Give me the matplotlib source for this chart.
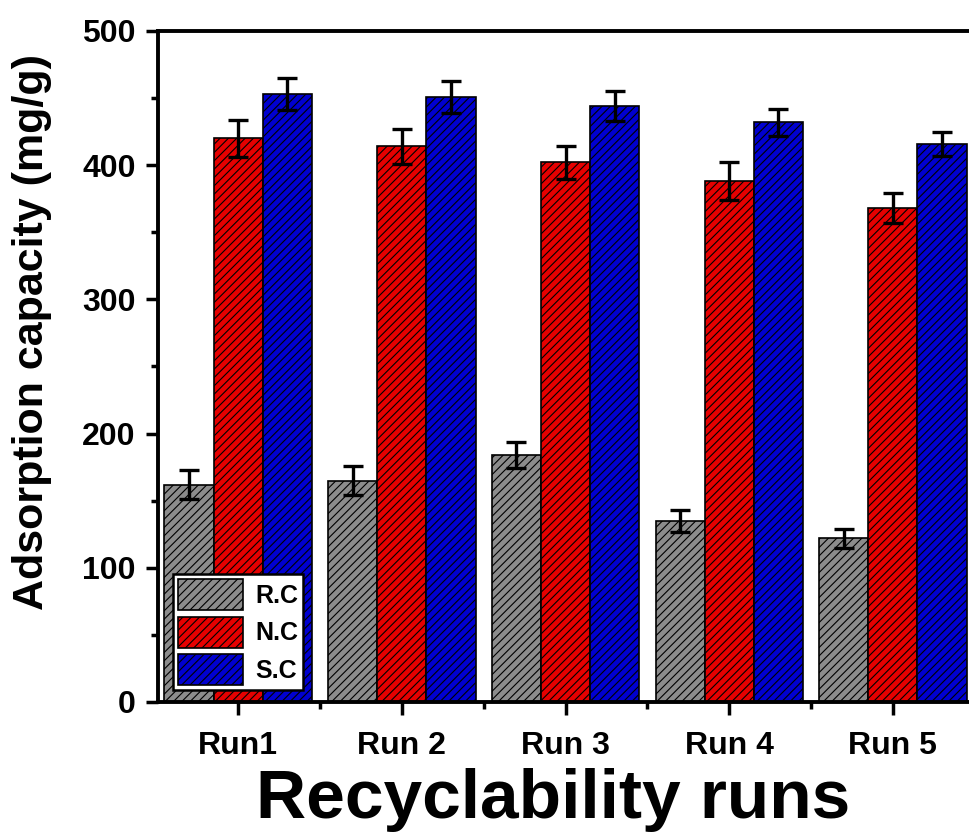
import numpy as np
import matplotlib
matplotlib.use("Agg")
import matplotlib.pyplot as plt
from matplotlib.ticker import FixedLocator, MultipleLocator

plt.rcParams['font.family'] = ['Liberation Sans', 'DejaVu Sans']
plt.rcParams['font.weight'] = 'bold'
plt.rcParams['hatch.linewidth'] = 0.8

# runs and samples
runs = ["Run1", "Run 2", "Run 3", "Run 4", "Run 5"]
samples = ["R.C", "N.C", "S.C"]

# adsorption capacity (mg/g)
rc_vals = [162, 165, 184, 135, 122]
nc_vals = [420, 414, 402, 388, 368]
sc_vals = [453, 451, 444, 432, 416]

# error bars
rc_err = [11, 11, 10, 8, 7]
nc_err = [14, 13, 12, 14, 11]
sc_err = [12, 12, 11, 10, 9]

colors = ['#8c8c8c', '#e60000', '#0000d0']

fig = plt.figure(figsize=(9.69, 8.34), dpi=100)
ax = fig.add_axes([0.163, 0.1583, 0.8514, 0.8046])

x = np.arange(1, len(runs) + 1)
w = 0.3
series = [rc_vals, nc_vals, sc_vals]
errs = [rc_err, nc_err, sc_err]

for i, (vals, err) in enumerate(zip(series, errs)):
    pos = x + (i - 1) * w
    ax.bar(pos, vals, width=w, color=colors[i], edgecolor='black',
           linewidth=1.2, hatch='////', label=samples[i], zorder=2)
    ax.errorbar(pos, vals, yerr=err, fmt='none', ecolor='black',
                elinewidth=2.4, capsize=7, capthick=2.4, zorder=3)

ax.set_xlim(0.51, 5.55)
ax.set_ylim(0, 500)
ax.set_xticks(x)
ax.set_xticklabels(runs)
ax.xaxis.set_minor_locator(FixedLocator([1.5, 2.5, 3.5, 4.5]))
ax.yaxis.set_major_locator(MultipleLocator(100))
ax.yaxis.set_minor_locator(MultipleLocator(50))

ax.tick_params(which='major', direction='out', length=9, width=2.5,
               labelsize=23, pad=7)
ax.tick_params(axis='x', which='major', pad=12)
ax.tick_params(which='minor', direction='out', length=5, width=2.5)
for lab in ax.get_xticklabels() + ax.get_yticklabels():
    lab.set_fontweight('bold')

for side in ['left', 'bottom', 'top']:
    ax.spines[side].set_linewidth(2.8)
ax.spines['right'].set_visible(False)

ax.set_ylabel('Adsorption capacity (mg/g)', fontsize=31, fontweight='bold')
ax.yaxis.set_label_coords(-0.128, 0.551)
ax.set_xlabel('Recyclability runs', fontsize=50, fontweight='bold')
ax.xaxis.set_label_coords(0.479, -0.098)

leg = ax.legend(loc='lower left', bbox_to_anchor=(0.018, 0.018),
                borderaxespad=0, fontsize=18, handlelength=2.6,
                handleheight=1.53, labelspacing=0.25, borderpad=0.2,
                handletextpad=0.5, fancybox=False, framealpha=1,
                edgecolor='black')
leg.get_frame().set_linewidth(1.8)
for t in leg.get_texts():
    t.set_fontweight('bold')

fig.savefig('out.png', dpi=100)
